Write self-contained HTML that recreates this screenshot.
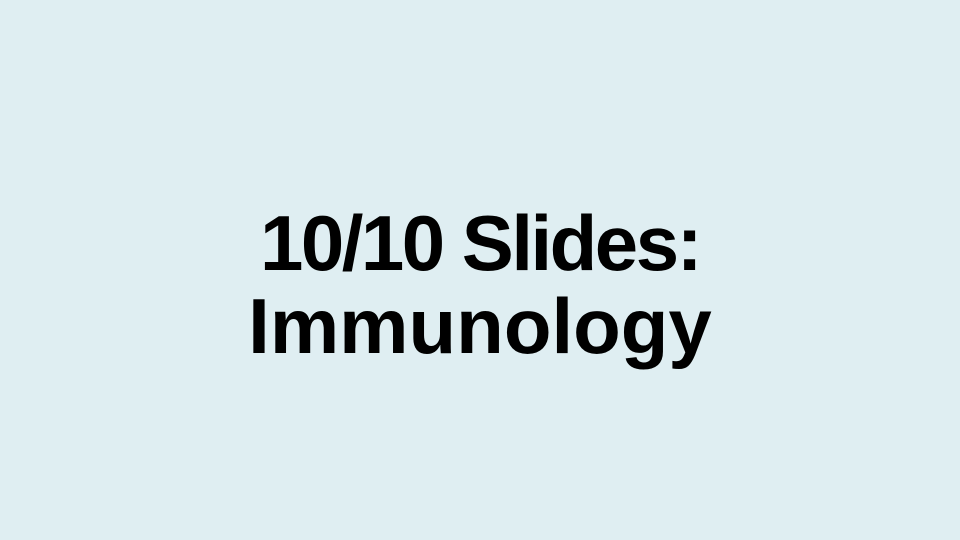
<!DOCTYPE html>
<html>
<head>
<meta charset="utf-8">
<style>
  html,body{margin:0;padding:0;}
  body{width:960px;height:540px;background:#dfeef2;position:relative;overflow:hidden;}
  .line{position:absolute;left:0;width:960px;text-align:center;font-family:"Liberation Sans",sans-serif;font-weight:bold;font-size:78px;color:#000;line-height:1;white-space:nowrap;}
</style>
</head>
<body>
  <div class="line" style="top:204px;letter-spacing:-2.5px;">10/10 Slides:</div>
  <div class="line" style="top:287px;">Immunology</div>
</body>
</html>
